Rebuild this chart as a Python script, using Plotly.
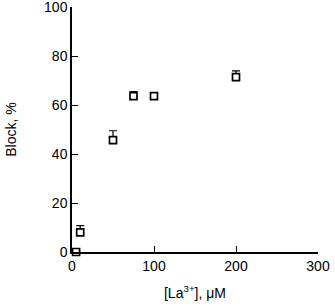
import plotly.graph_objects as go

conc = [5, 10, 50, 75, 100, 200]
block = [0, 8, 45.7, 63.6, 63.6, 71.4]
err_up = [0, 2.8, 3.8, 1.9, 1.3, 2.5]

x_ticks = [0, 100, 200, 300]
y_ticks = [0, 20, 40, 60, 80, 100]

fig = go.Figure()
# error bars (upper only)
fig.add_trace(go.Scatter(
    x=conc, y=block, mode="markers",
    marker=dict(symbol="square", size=7, color="white", line=dict(width=0)),
    error_y=dict(type="data", array=err_up, arrayminus=[0]*len(err_up), symmetric=False,
                 color="black", thickness=1.2, width=4),
    cliponaxis=False, hoverinfo="skip",
))
# open square markers drawn on top, white fill hides error line inside
fig.add_trace(go.Scatter(
    x=conc, y=block, mode="markers",
    marker=dict(symbol="square", size=7, color="white", line=dict(width=1.7, color="black")),
    cliponaxis=False,
))

font = dict(family="Liberation Sans, Arial, sans-serif", size=14, color="black")
fig.update_layout(
    width=335, height=306,
    margin=dict(l=72, r=17, t=7, b=54, autoexpand=False),
    paper_bgcolor="white", plot_bgcolor="white",
    showlegend=False,
    font=font,
    xaxis=dict(range=[0, 300], tickvals=x_ticks, ticks="inside", ticklen=6, tickwidth=1.2,
               tickcolor="black", showline=True, linecolor="black", linewidth=1.5,
               showgrid=False, zeroline=False, tickfont=font, ticklabeloverflow="allow",
               automargin=False,
               title=dict(text="[La<sup>3+</sup>], μM", font=font, standoff=16)),
    yaxis=dict(range=[0, 100], tickvals=y_ticks, ticks="inside", ticklen=6, tickwidth=1.2,
               tickcolor="black", showline=True, linecolor="black", linewidth=1.5,
               showgrid=False, zeroline=False, tickfont=font, ticklabeloverflow="allow",
               automargin=False,
               title=dict(text="Block, %", font=font, standoff=24)),
)
fig.write_html("out.html")
